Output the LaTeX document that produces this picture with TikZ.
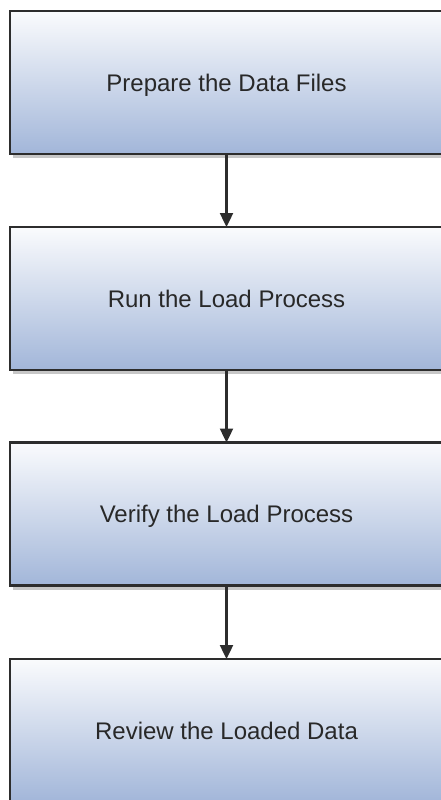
\documentclass[tikz,border=0pt]{standalone}
\usepackage{fontspec}
\setmainfont{Liberation Sans}
\usetikzlibrary{arrows.meta,shadows}
\definecolor{boxtop}{RGB}{250,251,253}
\definecolor{boxbot}{RGB}{162,182,217}
\definecolor{edge}{RGB}{45,45,45}
\definecolor{txt}{RGB}{40,40,40}
\tikzset{
  stepbox/.style={draw=edge, line width=2.6pt, top color=boxtop, bottom color=boxbot,
    minimum width=433pt, minimum height=143pt, inner sep=0pt, outer sep=0pt,
    font=\fontsize{24}{28}\selectfont, text=txt, text height=17pt, text depth=0pt,
    drop shadow={shadow xshift=3pt, shadow yshift=-4pt, fill=black, opacity=0.22}},
  flow/.style={draw=edge, line width=2.4pt, -{Triangle[length=14pt,width=13pt]}, shorten >=0pt}
}
\begin{document}
\begin{tikzpicture}[x=1pt,y=-1pt]
\useasboundingbox (0,0) rectangle (440,800);
\node[stepbox] (a) at (226.5,82.5) {Prepare the Data Files};
\node[stepbox] (b) at (226.5,298.5) {Run the Load Process};
\node[stepbox] (c) at (226.5,514) {Verify the Load Process};
\node[stepbox] (d) at (226.5,730.5) {Review the Loaded Data};
\draw[flow] (a.south) -- (b.north);
\draw[flow] (b.south) -- (c.north);
\draw[flow] (c.south) -- (d.north);
\end{tikzpicture}
\end{document}
